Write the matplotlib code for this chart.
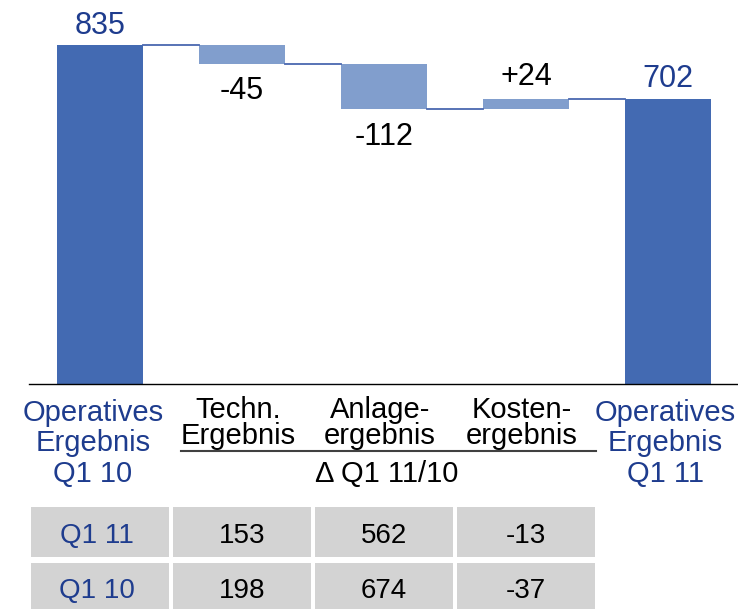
import matplotlib
matplotlib.use("Agg")
import matplotlib.pyplot as plt
from matplotlib.transforms import blended_transform_factory
from matplotlib.patches import Rectangle

plt.rcParams['font.family'] = ['Liberation Sans', 'DejaVu Sans']

# ---- data ----
start_label = ["Operatives", "Ergebnis", "Q1 10"]
end_label = ["Operatives", "Ergebnis", "Q1 11"]
delta_labels = [["Techn.", "Ergebnis"], ["Anlage-", "ergebnis"], ["Kosten-", "ergebnis"]]
start_value = 835
deltas = [-45, -112, 24]
end_value = 702
delta_text = ["-45", "-112", "+24"]
group_label = "Δ Q1 11/10"
row_labels = ["Q1 11", "Q1 10"]
row_q1_11 = [153, 562, -13]
row_q1_10 = [198, 674, -37]

# ---- style ----
MAIN = "#436AB2"
DELTA = "#819ECD"
LINE = "#4A68B0"
LBLUE = "#1E3C8E"
GRAY = "#D3D3D3"

W, H = 738, 609
fig = plt.figure(figsize=(W / 100, H / 100), dpi=100)
ax = fig.add_axes([0, 0, 1, 1])
ax.set_axis_off()

px_per_x = 142.0
x0_px = 100.0
ax.set_xlim(-x0_px / px_per_x, (W - x0_px) / px_per_x)
base_px = 384.0          # baseline from top
k = 0.4055               # px per unit
ax.set_ylim(-(H - base_px) / k, base_px / k)

bw = 0.6
xs = list(range(5))

# total bars
ax.bar([xs[0], xs[4]], [start_value, end_value], width=bw, color=MAIN, zorder=2)

# delta bars
level = start_value
levels = [start_value]
for i, d in enumerate(deltas):
    bottom = min(level, level + d)
    ax.bar(xs[i + 1], abs(d), bottom=bottom, width=bw, color=DELTA, zorder=2)
    level += d
    levels.append(level)

# connectors
conn_levels = [start_value, levels[1], levels[2], end_value]
for i, lv in enumerate(conn_levels):
    ax.plot([xs[i] + bw / 2, xs[i + 1] - bw / 2], [lv, lv], color=LINE, lw=1.3, zorder=3)

# baseline
ax.plot([-0.5, ax.get_xlim()[1]], [0, 0], color="black", lw=1.0, zorder=3)

# value labels
ax.annotate(str(start_value), (xs[0], start_value), xytext=(0, 8), textcoords="offset points",
            ha="center", va="baseline", fontsize=22, color=LBLUE)
ax.annotate(str(end_value), (xs[4], end_value), xytext=(0, 9), textcoords="offset points",
            ha="center", va="baseline", fontsize=22, color=LBLUE)
lv = start_value
for i, d in enumerate(deltas):
    if d < 0:
        ax.annotate(delta_text[i], (xs[i + 1], lv + d), xytext=(0, -9), textcoords="offset points",
                    ha="center", va="top", fontsize=22, color="black")
    else:
        ax.annotate(delta_text[i], (xs[i + 1], lv + d), xytext=(0, 10), textcoords="offset points",
                    ha="center", va="baseline", fontsize=22, color="black")
    lv += d

# texts below (x in data, y in figure pixels from top)
tr = blended_transform_factory(ax.transData, fig.transFigure)
def fy(p):
    return 1 - p / H

cat_baselines = [421, 451, 482]
for xi, lines, dx in [(xs[0], start_label, -0.05), (xs[4], end_label, -0.02)]:
    for line, b in zip(lines, cat_baselines):
        ax.text(xi + dx, fy(b), line, transform=tr, ha="center", va="baseline",
                fontsize=21, color=LBLUE)

delta_baselines = [418, 444]
for i, lines in enumerate(delta_labels):
    for line, b in zip(lines, delta_baselines):
        ax.text(xs[i + 1] - 0.03, fy(b), line, transform=tr, ha="center", va="baseline",
                fontsize=21, color="black")

ax.plot([0.57, 3.49], [fy(451), fy(451)], transform=tr, color="#404040", lw=1.5)
ax.text(xs[2] + 0.02, fy(482), group_label, transform=tr, ha="center", va="baseline",
        fontsize=21, color="black")

# table
cw = 0.965
rows = [(row_labels[0], row_q1_11, 507, 557, 543), (row_labels[1], row_q1_10, 563, 613, 598)]
for lab, vals, top, bot, bl in rows:
    for j in range(4):
        ax.add_patch(Rectangle((xs[j] - cw / 2, fy(bot)), cw, fy(top) - fy(bot),
                               transform=tr, facecolor=GRAY, edgecolor="none", zorder=1))
    ax.text(xs[0] - 0.02, fy(bl), lab, transform=tr, ha="center", va="baseline",
            fontsize=20, color=LBLUE)
    for j, v in enumerate(vals):
        ax.text(xs[j + 1], fy(bl), str(v), transform=tr, ha="center", va="baseline",
                fontsize=20, color="black")

fig.savefig("out.png", dpi=100)
